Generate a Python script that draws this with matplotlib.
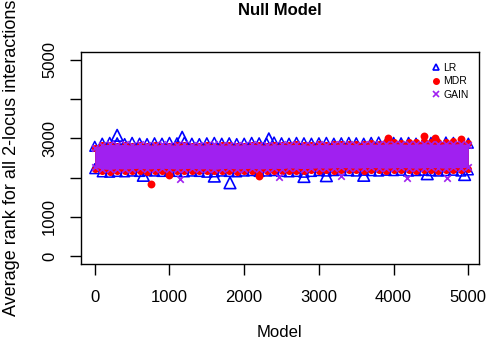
import numpy as np
import matplotlib
matplotlib.use("Agg")
import matplotlib.pyplot as plt
from matplotlib.lines import Line2D

plt.rcParams['font.family'] = ['Liberation Sans', 'DejaVu Sans']

# edges of each point cloud, read every 100 models (0..5000)
model = np.arange(0, 5001, 100)
lr_hi = [2800, 2880, 2900, 2890, 2870, 2900, 2880, 2870, 2890, 2880,
         2900, 2890, 2910, 2880, 2870, 2890, 2900, 2880, 2890, 2870,
         2880, 2900, 2890, 2880, 2910, 2890, 2880, 2900, 2890, 2880,
         2890, 2900, 2880, 2890, 2900, 2890, 2880, 2900, 2910, 2890,
         2900, 2890, 2900, 2880, 2890, 2900, 2880, 2910, 2900, 2910,
         2880]
lr_lo = [2230, 2150, 2140, 2160, 2150, 2170, 2160, 2180, 2170, 2160,
         2180, 2160, 2150, 2170, 2160, 2140, 2150, 2170, 2160, 2150,
         2170, 2180, 2160, 2170, 2180, 2160, 2150, 2160, 2140, 2160,
         2180, 2170, 2180, 2190, 2180, 2170, 2190, 2180, 2170, 2190,
         2180, 2190, 2170, 2180, 2190, 2180, 2170, 2180, 2190, 2170,
         2200]
mdr_hi = [2760, 2830, 2840, 2820, 2830, 2810, 2840, 2820, 2830, 2810,
          2820, 2840, 2830, 2820, 2810, 2830, 2820, 2840, 2830, 2820,
          2810, 2830, 2840, 2820, 2830, 2840, 2830, 2850, 2840, 2830,
          2850, 2840, 2860, 2850, 2870, 2860, 2870, 2880, 2870, 2900,
          2910, 2890, 2900, 2910, 2930, 2900, 2920, 2910, 2930, 2920,
          2880]
mdr_lo = [2220, 2160, 2150, 2170, 2160, 2170, 2180, 2150, 2170, 2180,
          2190, 2170, 2180, 2170, 2160, 2180, 2170, 2160, 2170, 2150,
          2160, 2170, 2150, 2160, 2180, 2160, 2170, 2180, 2170, 2190,
          2180, 2190, 2180, 2190, 2200, 2190, 2180, 2190, 2200, 2180,
          2190, 2200, 2190, 2180, 2200, 2190, 2180, 2200, 2190, 2200,
          2220]
gain_hi = [2760, 2840, 2850, 2840, 2850, 2830, 2850, 2840, 2830, 2850,
           2840, 2830, 2850, 2840, 2830, 2840, 2850, 2830, 2840, 2830,
           2840, 2850, 2840, 2830, 2840, 2850, 2840, 2850, 2840, 2830,
           2850, 2840, 2850, 2860, 2850, 2840, 2850, 2860, 2850, 2860,
           2870, 2860, 2850, 2860, 2870, 2860, 2850, 2870, 2860, 2870,
           2840]
gain_lo = [2270, 2220, 2210, 2230, 2220, 2230, 2240, 2220, 2230, 2240,
           2230, 2220, 2230, 2240, 2220, 2230, 2210, 2230, 2240, 2220,
           2230, 2240, 2220, 2230, 2240, 2230, 2250, 2240, 2230, 2240,
           2250, 2240, 2250, 2260, 2250, 2240, 2250, 2260, 2250, 2240,
           2250, 2260, 2250, 2240, 2250, 2260, 2250, 2240, 2260, 2250,
           2270]

# isolated points sticking out of the cloud
lr_out_x = [300, 1170, 2330, 1810, 1600, 2800, 3100, 4450, 650, 3600, 4950]
lr_out_y = [3080, 3030, 2990, 1870, 2040, 2030, 2050, 2100, 2060, 2060, 2080]
mdr_out_x = [750, 4400, 3930, 4900, 4550, 2200, 1000]
mdr_out_y = [1840, 3050, 3000, 2980, 3000, 2040, 2060]
gain_out_x = [4180, 4710, 1140, 2460, 3300]
gain_out_y = [2000, 2000, 1960, 2010, 2040]

blue = '#0000ff'
red = '#ff0000'
purple = '#a020f0'

fig = plt.figure(figsize=(4.9, 3.5), dpi=100)
ax = fig.add_axes([0.1647, 0.2457, 0.8129, 0.6053])

# LR
ax.fill_between(model, lr_lo, lr_hi, color=blue, lw=0)
for yy in (lr_hi, lr_lo):
    ax.scatter(model, yy, marker='^', s=50, facecolors='none', edgecolors=blue, linewidths=1.1)
ax.scatter(lr_out_x, lr_out_y, marker='^', s=70, facecolors='none', edgecolors=blue, linewidths=1.2)

# MDR
ax.fill_between(model, mdr_lo, mdr_hi, color=red, lw=0)
for yy in (mdr_hi, mdr_lo):
    ax.scatter(model, yy, marker='o', s=26, color=red, lw=0)
ax.scatter(mdr_out_x, mdr_out_y, marker='o', s=32, color=red, lw=0)

# GAIN
ax.fill_between(model, gain_lo, gain_hi, color=purple, lw=0)
for yy in (gain_hi, gain_lo):
    ax.scatter(model, yy, marker='x', s=22, color=purple, linewidths=1.2)
ax.scatter(gain_out_x, gain_out_y, marker='x', s=22, color=purple, linewidths=1.2)

ax.set_xlim(-188, 5143)
ax.set_ylim(-200, 5200)
ax.set_xticks(range(0, 5001, 1000))
ax.set_yticks(range(0, 5001, 1000))
ax.set_yticklabels(['0', '1000', '', '3000', '', '5000'], rotation=90, va='center')
ax.tick_params(length=8, width=1, labelsize=12)
ax.tick_params(axis='x', pad=11)
ax.tick_params(axis='y', pad=9)
for sp in ax.spines.values():
    sp.set_linewidth(1)

ax.set_xlabel('Model', fontsize=12, labelpad=14)
ax.set_ylabel('Average rank for all 2-locus interactions', fontsize=13, labelpad=16)
ax.set_title('Null Model', fontsize=12, fontweight='bold', pad=27)

handles = [Line2D([], [], marker='^', ls='', mfc='none', mec=blue, ms=5, mew=1.2),
           Line2D([], [], marker='o', ls='', color=red, ms=4),
           Line2D([], [], marker='x', ls='', color=purple, ms=4, mew=1.2)]
ax.legend(handles, ['LR', 'MDR', 'GAIN'], loc='upper right', frameon=False, fontsize=7.5,
          handletextpad=0.2, labelspacing=0.35, borderaxespad=0.6, handlelength=1)

fig.savefig('out.png', dpi=100)
